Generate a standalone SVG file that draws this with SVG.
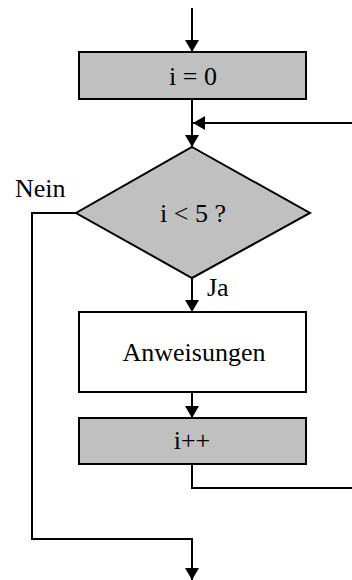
<svg xmlns="http://www.w3.org/2000/svg" width="352" height="580" viewBox="0 0 352 580">
  <style>
    .box { stroke: #000; stroke-width: 2; }
    .grey { fill: #c0c0c0; }
    .white { fill: #fff; }
    .lbl { font-family: "Liberation Serif", "Times New Roman", serif; font-size: 26px; fill: #000; }
    .mid { text-anchor: middle; }
    .wire { fill: none; stroke: #000; stroke-width: 2; }
  </style>
  <defs>
    <marker id="arrow" markerUnits="userSpaceOnUse" markerWidth="12" markerHeight="14" refX="12" refY="7" orient="auto">
      <path d="M0,0 L12,7 L0,14 Z" fill="#000"/>
    </marker>
  </defs>
  <rect width="352" height="580" fill="#fff"/>

  <!-- connectors -->
  <g id="connectors">
    <path class="wire" d="M192,8 V52" marker-end="url(#arrow)"/>
    <path class="wire" d="M192,99 V147" marker-end="url(#arrow)"/>
    <path class="wire" d="M352,123 H193" marker-end="url(#arrow)"/>
    <path class="wire" d="M192,278 V312" marker-end="url(#arrow)"/>
    <path class="wire" d="M192,392 V418" marker-end="url(#arrow)"/>
    <path class="wire" d="M192,464 V488 H352"/>
    <path class="wire" d="M76,213 H32 V539 H192 V580" marker-end="url(#arrow)"/>
  </g>

  <!-- nodes -->
  <g id="init">
    <rect class="box grey" x="79" y="52" width="227" height="47"/>
    <text class="lbl mid" x="193" y="84.5">i = 0</text>
  </g>
  <g id="condition">
    <polygon class="box grey" points="192,147 310,213 192,278 76,213"/>
    <text class="lbl mid" x="193" y="221.5">i &lt; 5 ?</text>
    <text class="lbl" x="15" y="197">Nein</text>
    <text class="lbl" x="207" y="296">Ja</text>
  </g>
  <g id="body">
    <rect class="box white" x="79" y="312" width="227" height="80"/>
    <text class="lbl mid" x="194" y="361">Anweisungen</text>
  </g>
  <g id="increment">
    <rect class="box grey" x="79" y="418" width="227" height="46"/>
    <text class="lbl mid" x="192" y="448.5">i++</text>
  </g>
</svg>
